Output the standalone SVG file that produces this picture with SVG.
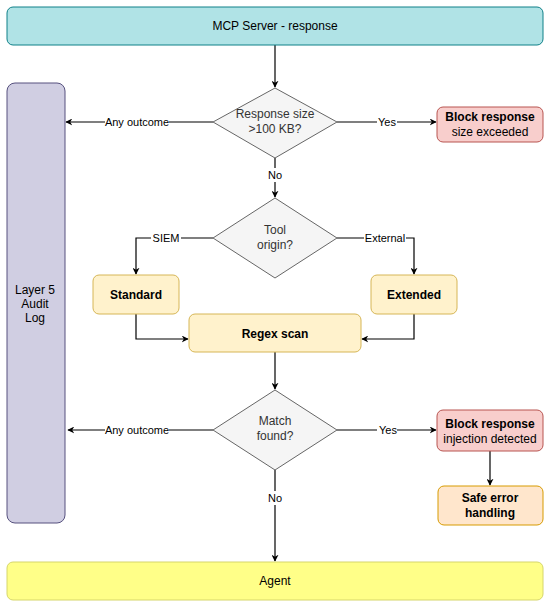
<svg xmlns="http://www.w3.org/2000/svg" width="550" height="607" viewBox="0 0 550 607">
<defs>
<marker id="ah" viewBox="0 0 10 10" refX="9" refY="5" markerWidth="7" markerHeight="7" orient="auto" markerUnits="userSpaceOnUse">
<path d="M0,0 L10,5 L0,10 L3,5 Z" fill="#000"/>
</marker>
<style>
text{font-family:"Liberation Sans",Arial,sans-serif;font-size:12px;fill:#000;text-anchor:middle}
.b{font-weight:bold}
.g{fill:#333}
.lbl{font-size:11px}
.lb{fill:#fff}
.e{fill:none;stroke:#000;stroke-width:1.2}
.dia{fill:#f5f5f5;stroke:#666}
.yel{fill:#fff2cc;stroke:#d6b656}
.red{fill:#f8cecc;stroke:#b85450}
</style>
</defs>
<rect width="550" height="607" fill="#fff"/>
<g id="connectors">
<path class="e" d="M275,45 V87" marker-end="url(#ah)"/>
<path class="e" d="M213,122 H66" marker-end="url(#ah)"/>
<path class="e" d="M337,122 H436" marker-end="url(#ah)"/>
<path class="e" d="M275,158 V197" marker-end="url(#ah)"/>
<path class="e" d="M213,238 H136 V274" marker-end="url(#ah)"/>
<path class="e" d="M337,238 H414 V274" marker-end="url(#ah)"/>
<path class="e" d="M136,314 V339 H188" marker-end="url(#ah)"/>
<path class="e" d="M414,314 V339 H362" marker-end="url(#ah)"/>
<path class="e" d="M275,352 V389" marker-end="url(#ah)"/>
<path class="e" d="M213,430 H68" marker-end="url(#ah)"/>
<path class="e" d="M337,430 H436" marker-end="url(#ah)"/>
<path class="e" d="M490,451 V485" marker-end="url(#ah)"/>
<path class="e" d="M275,470 V561" marker-end="url(#ah)"/>
<rect class="lb" x="105" y="115" width="64" height="14"/>
<text class="lbl" x="137" y="126">Any outcome</text>
<rect class="lb" x="377" y="115" width="20" height="14"/>
<text class="lbl" x="387" y="126">Yes</text>
<rect class="lb" x="267" y="168" width="16" height="14"/>
<text class="lbl" x="275" y="179">No</text>
<rect class="lb" x="151" y="231" width="30" height="14"/>
<text class="lbl" x="166" y="242">SIEM</text>
<rect class="lb" x="364" y="231" width="42" height="14"/>
<text class="lbl" x="385" y="242">External</text>
<rect class="lb" x="105" y="423" width="64" height="14"/>
<text class="lbl" x="137" y="434">Any outcome</text>
<rect class="lb" x="377" y="423" width="20" height="14"/>
<text class="lbl" x="388" y="434">Yes</text>
<rect class="lb" x="267" y="491" width="16" height="14"/>
<text class="lbl" x="275" y="502">No</text>
</g>
<g id="mcp-server">
<rect x="7" y="7" width="536" height="38" rx="6" fill="#b0e3e6" stroke="#0e8088"/>
<text x="275" y="30">MCP Server - response</text>
</g>
<g id="audit-log">
<rect x="7" y="83" width="58" height="440" rx="8" fill="#d0cee2" stroke="#56517e"/>
<text x="35" y="294">Layer 5</text>
<text x="35" y="308">Audit</text>
<text x="35" y="322">Log</text>
</g>
<g id="size-check">
<polygon class="dia" points="275,88 337,122 275,158 213,122"/>
<text class="g" x="275" y="118">Response size</text>
<text class="g" x="275" y="133">&gt;100 KB?</text>
</g>
<g id="block-size">
<rect class="red" x="437" y="107" width="106" height="35" rx="6"/>
<text class="b" x="490" y="121">Block response</text>
<text x="490" y="136">size exceeded</text>
</g>
<g id="tool-origin">
<polygon class="dia" points="275,198 337,238 275,278 213,238"/>
<text class="g" x="275" y="234">Tool</text>
<text class="g" x="275" y="249">origin?</text>
</g>
<g id="standard">
<rect class="yel" x="93" y="275" width="86" height="39" rx="6"/>
<text class="b" x="136" y="299">Standard</text>
</g>
<g id="extended">
<rect class="yel" x="371" y="275" width="86" height="39" rx="6"/>
<text class="b" x="414" y="299">Extended</text>
</g>
<g id="regex-scan">
<rect class="yel" x="189" y="314" width="172" height="38" rx="6"/>
<text class="b" x="275" y="338">Regex scan</text>
</g>
<g id="match-found">
<polygon class="dia" points="275,390 337,430 275,470 213,430"/>
<text class="g" x="275" y="425">Match</text>
<text class="g" x="275" y="440">found?</text>
</g>
<g id="block-injection">
<rect class="red" x="437" y="410" width="106" height="41" rx="6"/>
<text class="b" x="490" y="428">Block response</text>
<text x="490" y="443">injection detected</text>
</g>
<g id="safe-error">
<rect x="438" y="486" width="105" height="39" rx="6" fill="#ffe6cc" stroke="#d79b00"/>
<text class="b" x="490" y="502">Safe error</text>
<text class="b" x="490" y="517">handling</text>
</g>
<g id="agent">
<rect x="7" y="562" width="536" height="38" rx="6" fill="#ffff88" stroke="#d6d66a"/>
<text x="275" y="585">Agent</text>
</g>
</svg>
